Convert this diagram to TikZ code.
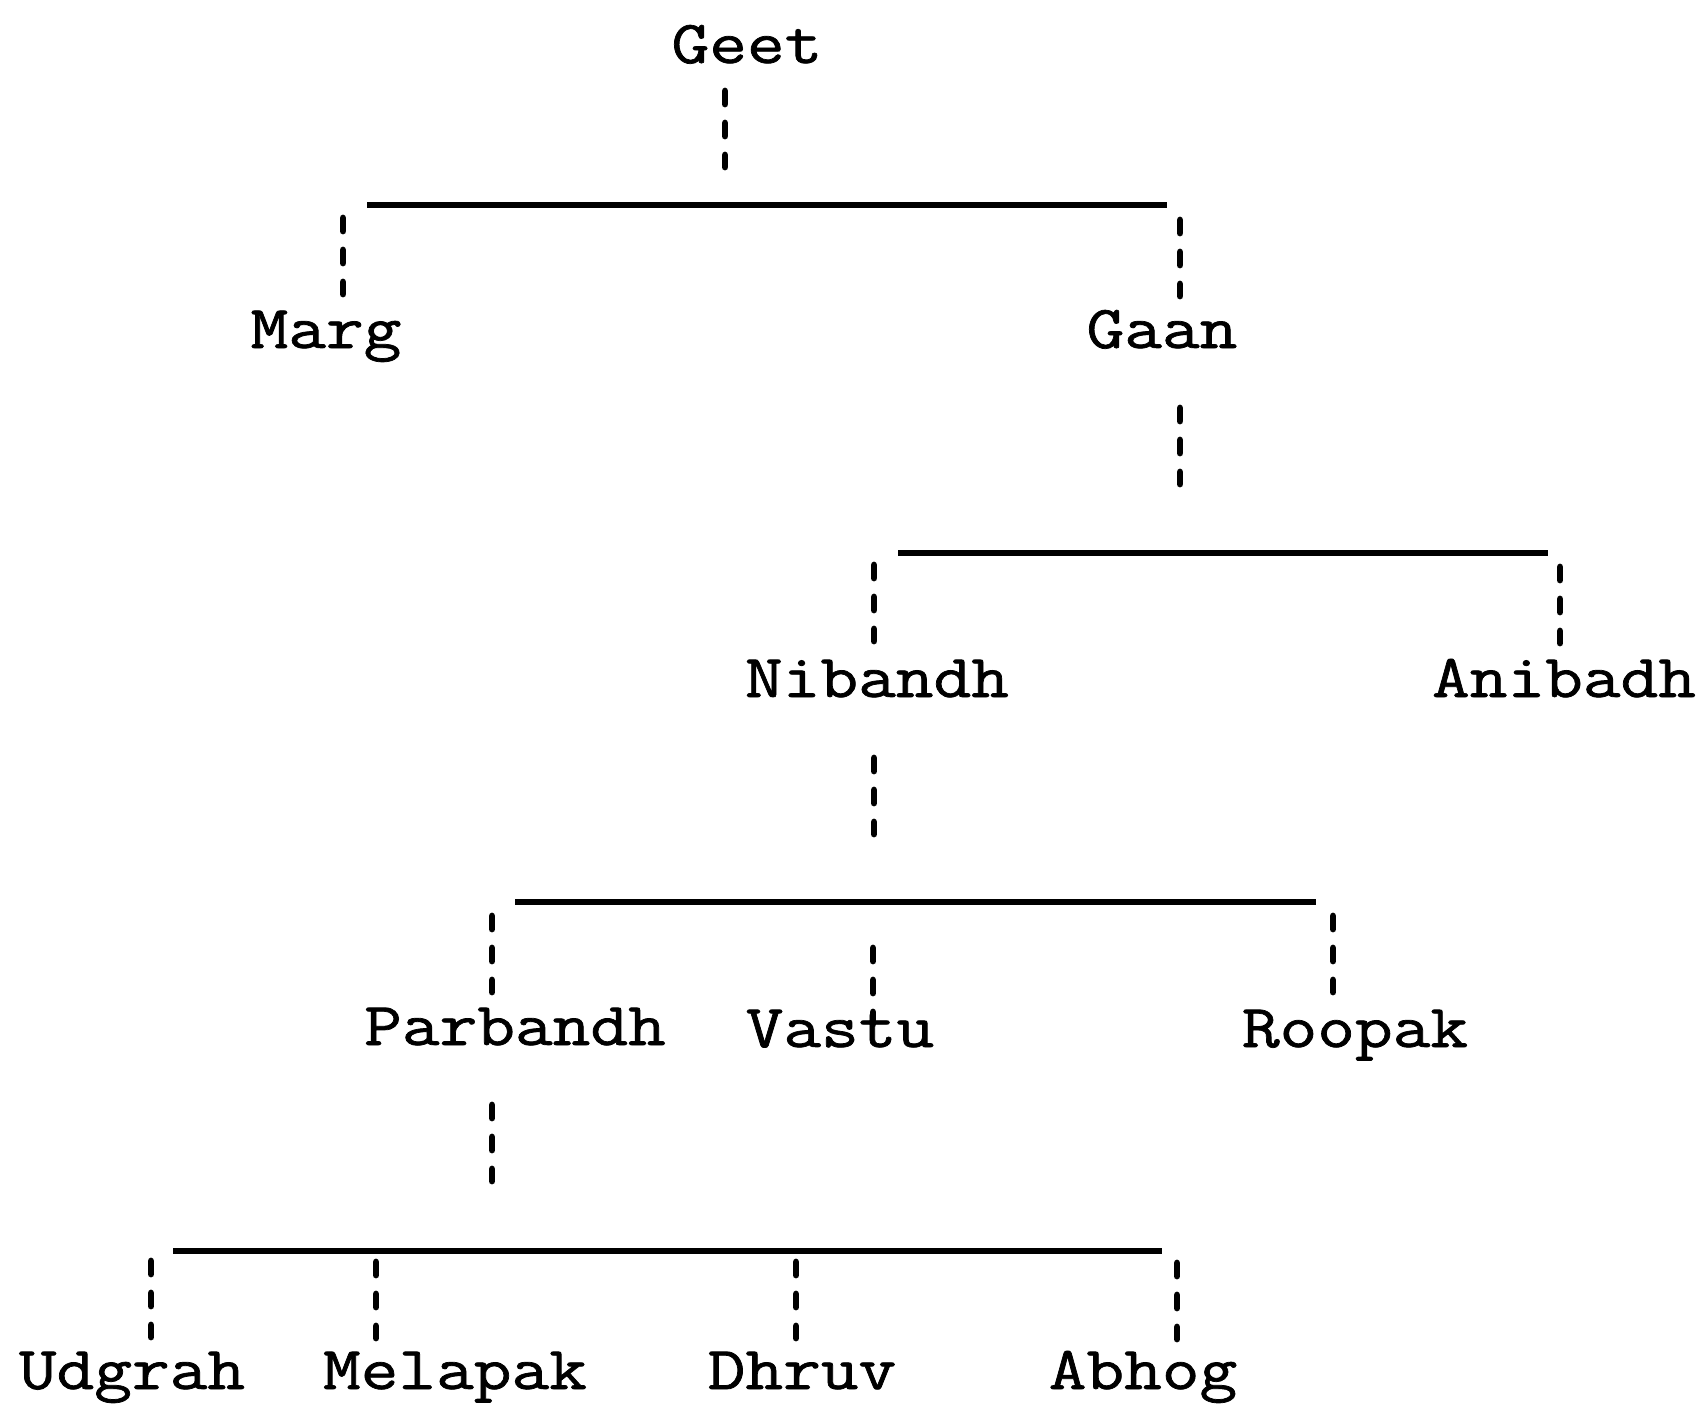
\documentclass[tikz,border=0pt]{standalone}
\usepackage{fontspec}
\newfontfamily\twfont{Latin Modern Mono}[FakeStretch=1.2, FakeBold=1.2]
\tikzset{
  lbl/.style={anchor=base, inner sep=0pt, font=\twfont\fontsize{30.5pt}{36pt}\selectfont},
  dashline/.style={line width=3.4pt, line cap=round, dash pattern=on 6.5pt off 9.5pt},
  barline/.style={line width=2.6pt}
}
\newcommand\typdash[3]{%
  \coordinate (#1-a) at (#2,#3+3);
  \coordinate (#1-b) at (#2,#3+79);
  \draw[dashline] (#1-a) -- (#1-b);}
\begin{document}
\begin{tikzpicture}[x=0.5pt,y=-0.5pt]
\useasboundingbox (0,0) rectangle (1703,1405);
\fill[white] (0,0) rectangle (1703,1405);
% labels
\node[lbl] (geet)    at (747,63)    {Geet};
\node[lbl] (marg)    at (326,348)   {Marg};
\node[lbl] (gaan)    at (1162,348)  {Gaan};
\node[lbl] (nibandh) at (877,697)   {Nibandh};
\node[lbl] (anibadh) at (1564,697)  {Anibadh};
\node[lbl] (parbandh) at (515,1045) {Parbandh};
\node[lbl] (vastu)   at (840,1047)  {Vastu};
\node[lbl] (roopak)  at (1355,1047) {Roopak};
\node[lbl] (udgrah)  at (132,1389)  {Udgrah};
\node[lbl] (melapak) at (455,1389)  {Melapak};
\node[lbl] (dhruv)   at (802,1389)  {Dhruv};
\node[lbl] (abhog)   at (1143,1389) {Abhog};
% bars
\coordinate (bar1L) at (367,205);  \coordinate (bar1R) at (1167,205);
\coordinate (bar2L) at (898,553);  \coordinate (bar2R) at (1548,553);
\coordinate (bar3L) at (515,902);  \coordinate (bar3R) at (1316,902);
\coordinate (bar4L) at (173,1251); \coordinate (bar4R) at (1162,1251);
\draw[barline] (bar1L) -- (bar1R);
\draw[barline] (bar2L) -- (bar2R);
\draw[barline] (bar3L) -- (bar3R);
\draw[barline] (bar4L) -- (bar4R);
% dashed connectors
\typdash{geetdown}{725}{88}
\typdash{margup}{343}{215}
\typdash{gaanup}{1180}{217}
\typdash{gaandown}{1180}{405}
\typdash{nibandhup}{874}{562}
\typdash{anibadhup}{1560}{564}
\typdash{nibandhdown}{874}{755}
\typdash{parbandhup}{492}{913}
\typdash{vastuup}{873}{945}
\typdash{roopakup}{1333}{913}
\typdash{parbandhdown}{492}{1102}
\typdash{udgrahup}{151}{1258}
\typdash{melapakup}{376}{1259}
\typdash{dhruvup}{796}{1259}
\typdash{abhogup}{1177}{1260}
\end{tikzpicture}
\end{document}
